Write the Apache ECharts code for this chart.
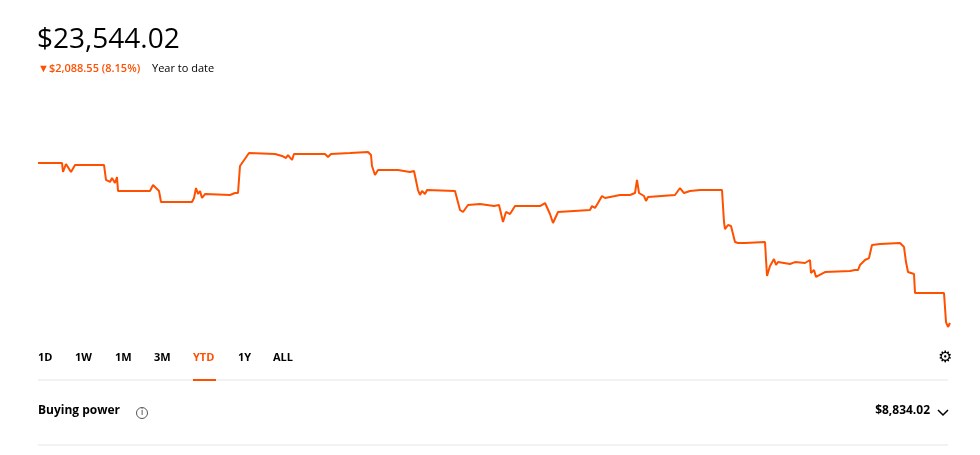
<!DOCTYPE html>
<html>
<head>
<meta charset="utf-8">
<script src="https://cdn.jsdelivr.net/npm/echarts@6/dist/echarts.min.js"></script>
<style>
  html, body { margin: 0; padding: 0; background: #fff; }
  #main { width: 980px; height: 455px; }
</style>
</head>
<body>
<div id="main"></div>
<script>
// portfolio value through the year (t = session step)
var t = [0,24,25,28,33,37,66,68,72,74,77,79,80,112,114,115,118,121,123,154,156,158,160,162,164,167,169,192,197,200,202,211,237,244,248,250,254,256,279,287,290,293,312,330,333,334,337,340,342,360,372,376,380,382,384,387,389,417,422,425,427,430,442,456,461,462,465,468,472,474,477,502,507,509,512,515,520,552,554,557,560,564,567,577,582,592,597,599,601,606,608,610,637,642,646,652,662,684,686,687,690,693,697,700,707,727,729,732,736,738,740,752,757,767,772,773,776,778,780,787,812,817,820,822,827,831,834,842,862,864,866,868,870,872,876,877,882,897,906,908,910,912];
var value = [25620,25620,25506,25607,25506,25595,25595,25405,25380,25430,25367,25443,25265,25265,25253,25341,25303,25265,25126,25126,25177,25303,25227,25265,25177,25227,25215,25215,25240,25240,25582,25746,25734,25709,25683,25721,25658,25734,25734,25734,25696,25734,25746,25759,25721,25582,25468,25531,25544,25531,25506,25519,25278,25215,25265,25227,25278,25265,25025,25000,25000,25088,25101,25075,25088,25063,24873,25000,24974,24949,25075,25075,25113,25113,24974,24860,25000,25025,25075,25050,25113,25202,25177,25202,25215,25215,25240,25405,25240,25202,25139,25189,25215,25303,25240,25265,25278,25278,24873,24784,24835,24822,24620,24607,24607,24620,24189,24316,24405,24328,24366,24341,24366,24354,24392,24227,24265,24177,24202,24240,24253,24265,24265,24328,24392,24417,24582,24594,24607,24594,24556,24366,24240,24253,24215,23974,23974,23974,23974,23607,23544,23594];
var ranges = ['1D','1W','1M','3M','YTD','1Y','ALL'];
var rangeX = [38,75,115,154,193,238,273];
var activeRange = 'YTD';

var orange = '#ff5000';
var font = '"Open Sans", "Noto Sans", sans-serif';
var myChart = echarts.init(document.getElementById('main'));

var graphics = [
  { type: 'text', left: 37, top: 26, style: { text: '$23,544.02', font: '400 28px ' + font, fill: '#000' } },
  { type: 'text', left: 38, top: 63, style: { text: '\u25BC$2,088.55 (8.15%)', font: '600 11px ' + font, fill: orange } },
  { type: 'text', left: 152, top: 63, style: { text: 'Year to date', font: '400 11px ' + font, fill: '#000' } },
  { type: 'line', shape: { x1: 38, y1: 380, x2: 948, y2: 380 }, style: { stroke: '#e3e5e8', lineWidth: 1 } },
  { type: 'rect', shape: { x: 193, y: 379, width: 23, height: 2 }, style: { fill: orange } },
  { type: 'text', left: 938, top: 350, style: { text: '\u2699', font: '700 16px "DejaVu Sans"', fill: '#000' } },
  { type: 'text', left: 38, top: 405, style: { text: 'Buying power', font: '700 12px ' + font, fill: '#000' } },
  { type: 'circle', shape: { cx: 142, cy: 413, r: 5.5 }, style: { fill: 'none', stroke: '#555', lineWidth: 1 } },
  { type: 'text', x: 142, y: 413, style: { text: 'i', font: '600 8px ' + font, fill: '#555', align: 'center', verticalAlign: 'middle' } },
  { type: 'text', right: 50, top: 405, style: { text: '$8,834.02', font: '700 12px ' + font, fill: '#000' } },
  { type: 'polyline', shape: { points: [[938, 410], [943, 415], [948, 410]] }, style: { stroke: '#000', lineWidth: 1.5, fill: 'none' } },
  { type: 'line', shape: { x1: 38, y1: 445, x2: 948, y2: 445 }, style: { stroke: '#e3e5e8', lineWidth: 1 } }
];
ranges.forEach(function (r, i) {
  graphics.push({ type: 'text', left: rangeX[i], top: 352, style: { text: r, font: '700 11px ' + font, fill: r === activeRange ? orange : '#000' } });
});

myChart.setOption({
  animation: false,
  grid: { left: 38, right: 30, top: 152, height: 175 },
  xAxis: { type: 'value', min: 0, max: 912, show: false },
  yAxis: { type: 'value', min: 23544, max: 25759, show: false, splitLine: { show: false } },
  series: [{
    type: 'line',
    data: t.map(function (x, i) { return [x, value[i]]; }),
    showSymbol: false,
    lineStyle: { color: orange, width: 2 }
  }],
  graphic: graphics
});
</script>
</body>
</html>
